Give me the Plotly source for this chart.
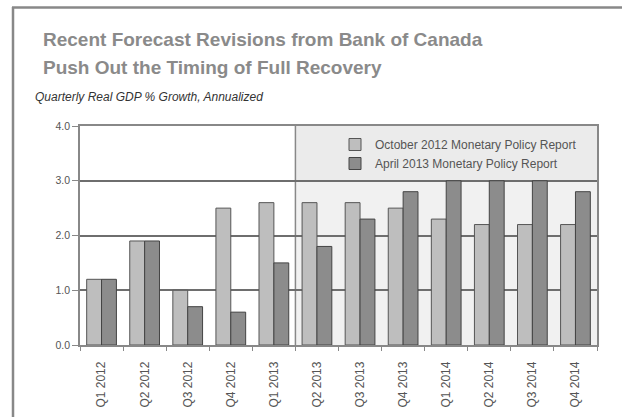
import plotly.graph_objects as go

categories = ["Q1 2012", "Q2 2012", "Q3 2012", "Q4 2012", "Q1 2013", "Q2 2013",
              "Q3 2013", "Q4 2013", "Q1 2014", "Q2 2014", "Q3 2014", "Q4 2014"]
oct_2012 = [1.2, 1.9, 1.0, 2.5, 2.6, 2.6, 2.6, 2.5, 2.3, 2.2, 2.2, 2.2]
apr_2013 = [1.2, 1.9, 0.7, 0.6, 1.5, 1.8, 2.3, 2.8, 3.0, 3.0, 3.0, 2.8]
series_names = ["October 2012 Monetary Policy Report", "April 2013 Monetary Policy Report"]
y_ticks = [0.0, 1.0, 2.0, 3.0, 4.0]

W, H = 622, 417
L, R, T, B = 80, 597, 126, 345  # plot area in pixels


def px(x):
    return (x - L) / (R - L)


def py(y):
    return (B - y) / (B - T)


fig = go.Figure()
fig.add_trace(go.Bar(x=categories, y=oct_2012, name=series_names[0],
                     marker=dict(color="#bebebe", line=dict(color="#555555", width=1))))
fig.add_trace(go.Bar(x=categories, y=apr_2013, name=series_names[1],
                     marker=dict(color="#8c8c8c", line=dict(color="#444444", width=1))))

shapes = [
    # shaded forecast region
    dict(type="rect", xref="x", yref="y", x0=4.5, x1=11.5, y0=0, y1=4,
         fillcolor="#f1f1f1", line=dict(width=0), layer="below"),
    dict(type="rect", xref="x", yref="y", x0=4.5, x1=11.5, y0=3, y1=4,
         fillcolor="#ebebeb", line=dict(width=0), layer="below"),
    dict(type="line", xref="x", yref="y", x0=4.5, x1=4.5, y0=0, y1=4,
         line=dict(color="#888888", width=1.5), layer="below"),
    # outer frame: left and top edges
    dict(type="line", xref="paper", yref="paper", x0=px(13), x1=px(13), y0=py(7), y1=py(417),
         line=dict(color="#888888", width=2.5), layer="below"),
    dict(type="line", xref="paper", yref="paper", x0=px(12), x1=px(622), y0=py(7.5), y1=py(7.5),
         line=dict(color="#888888", width=2.5), layer="below"),
]

annotations = [
    dict(text="<b>Recent Forecast Revisions from Bank of Canada</b>", x=px(41), y=py(27),
         xref="paper", yref="paper", xanchor="left", yanchor="top", showarrow=False,
         font=dict(family="Liberation Sans, Arial", size=19, color="#8a8a8a")),
    dict(text="<b>Push Out the Timing of Full Recovery</b>", x=px(41), y=py(55),
         xref="paper", yref="paper", xanchor="left", yanchor="top", showarrow=False,
         font=dict(family="Liberation Sans, Arial", size=19, color="#8a8a8a")),
    dict(text="<i>Quarterly Real GDP % Growth, Annualized</i>", x=px(33), y=py(88),
         xref="paper", yref="paper", xanchor="left", yanchor="top", showarrow=False,
         font=dict(family="Liberation Sans, Arial", size=12, color="#333333")),
]

fig.update_layout(
    width=W, height=H,
    margin=dict(l=L, r=W - R, t=T, b=H - B),
    paper_bgcolor="white", plot_bgcolor="white",
    barmode="group", bargap=0.31, bargroupgap=0.0,
    font=dict(family="Liberation Sans, Arial", size=10, color="#555555"),
    showlegend=True,
    legend=dict(x=px(582), y=py(130), xanchor="right", yanchor="top",
                bgcolor="rgba(0,0,0,0)", font=dict(size=12, color="#555555"),
                itemwidth=30, tracegroupgap=0),
    shapes=shapes,
    annotations=annotations,
)
fig.update_xaxes(type="category", tickangle=-90, ticks="outside", tickson="boundaries",
                 ticklen=4, tickcolor="#888888", showline=True, linecolor="#888888",
                 linewidth=1.5, mirror=True, showgrid=False, ticklabelstandoff=10,
                 automargin=False, tickfont=dict(size=12, color="#555555"))
fig.update_yaxes(range=[0, 4], tickvals=y_ticks, ticktext=[f"{v:.1f}" for v in y_ticks],
                 ticks="outside", ticklen=6, tickcolor="#888888", automargin=False,
                 showline=True, linecolor="#888888", linewidth=1.5, mirror=True,
                 showgrid=True, gridcolor="#6e6e6e", gridwidth=2, zeroline=False,
                 tickfont=dict(size=10.5, color="#555555"))

fig.write_html("out.html")
